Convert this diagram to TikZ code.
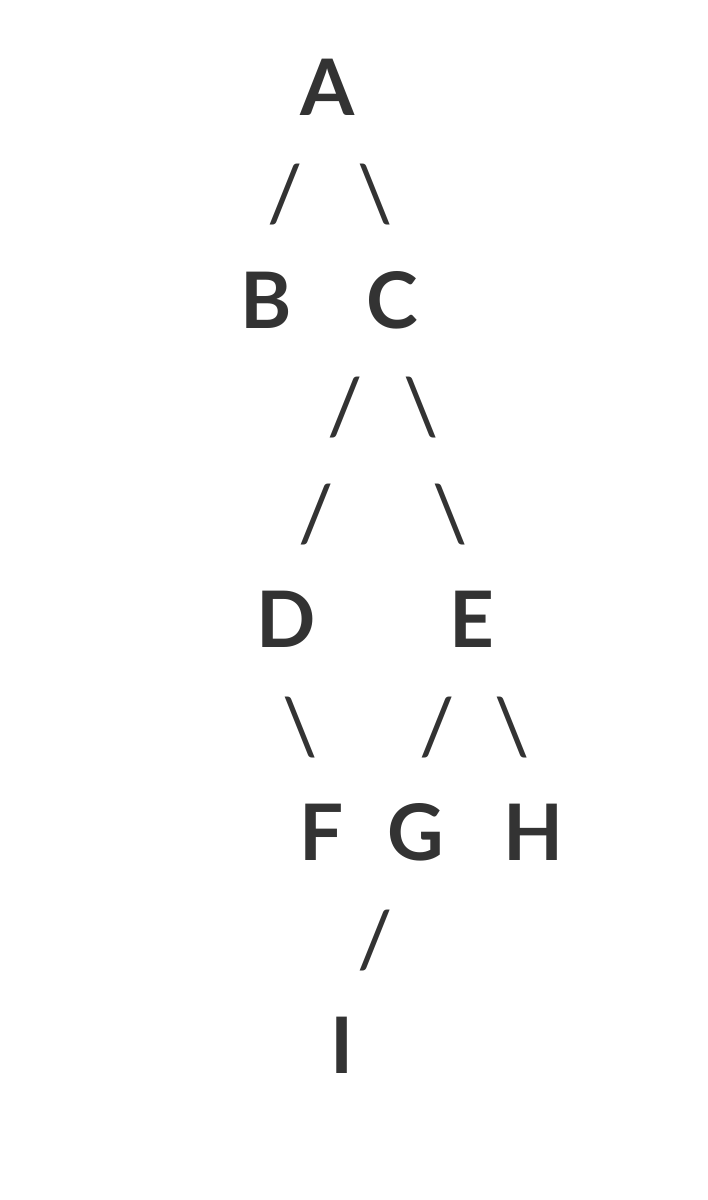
\documentclass[tikz,border=0pt]{standalone}
\usepackage{fontspec}
\setmainfont{Lato}
\usepackage{tikz}
\definecolor{myink}{RGB}{51,51,51}

\begin{document}
\begin{tikzpicture}[x=1pt,y=-1pt,
		  every node/.style={inner sep=0pt,anchor=base,text=myink,
		    font=\fontsize{78}{90}\selectfont\bfseries},
		  edgemark/.style={font=\fontsize{78}{90}\selectfont}
		]
			\useasboundingbox (0,0) rectangle (708,1200);

			% the letters
			\node (A) at (328,115) {A};
			\node (B) at (266,328) {B};
			\node (C) at (392,328) {C};
			\node (D) at (286,647) {D};
			\node (E) at (472,647) {E};
			\node (F) at (322,860) {F};
			\node (G) at (416,860) {G};
			\node (H) at (534,860) {H};
			\node (I) at (342,1073) {I};

			% the slashes
			\node[edgemark] (ab) at (285,221) {/};
			\node[edgemark] (ac) at (375,221) {\textbackslash};
			\node[edgemark] (cd1) at (345,434) {/};
			\node[edgemark] (ce1) at (421,434) {\textbackslash};
			\node[edgemark] (cd2) at (316,541) {/};
			\node[edgemark] (ce2) at (450,541) {\textbackslash};
			\node[edgemark] (df) at (300,754) {\textbackslash};
			\node[edgemark] (eg) at (437,754) {/};
			\node[edgemark] (eh) at (512,754) {\textbackslash};
			\node[edgemark] (gi) at (375,967) {/};

		\end{tikzpicture}
\end{document}
